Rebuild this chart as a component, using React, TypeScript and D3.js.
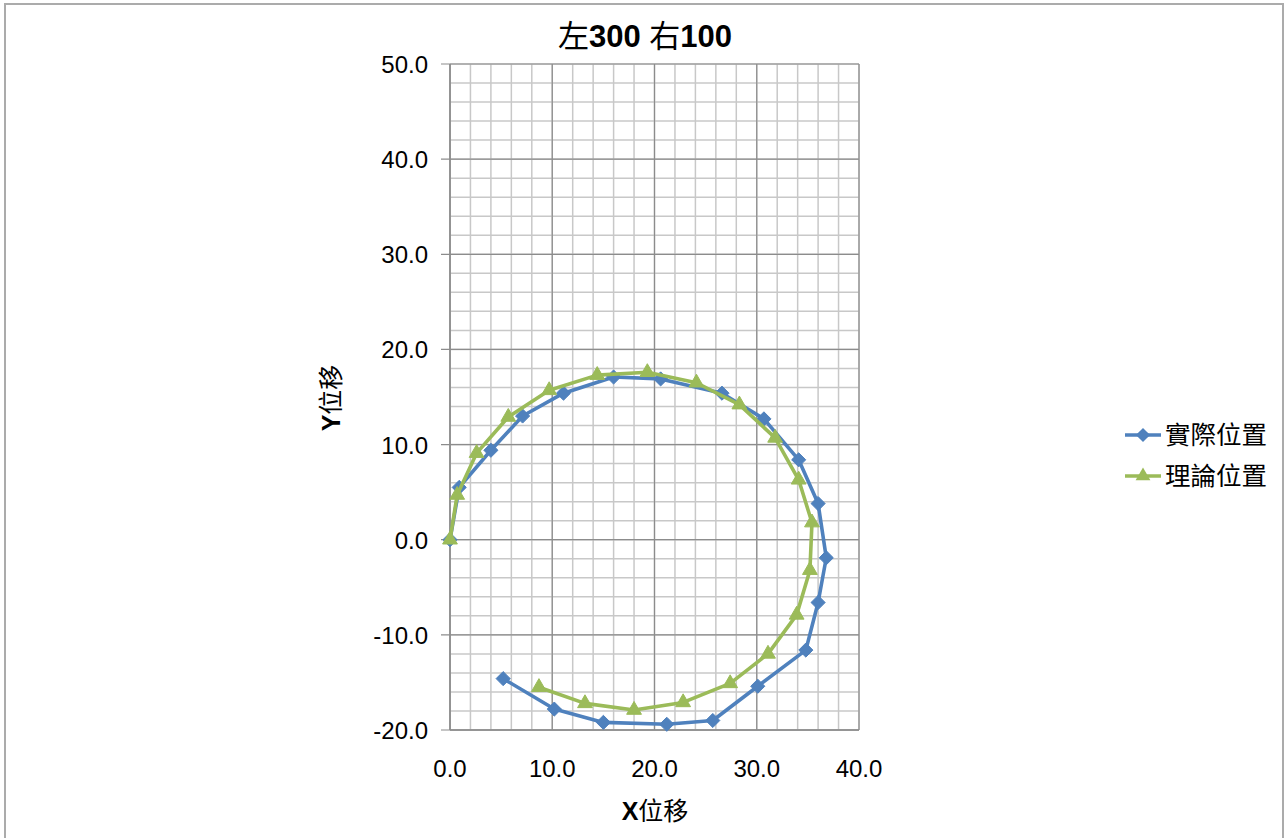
import React from "react";
import * as d3 from "d3";

// Measured displacement (實際位置) and theoretical displacement (理論位置)
const actualX = [0, 0.9, 4.0, 7.1, 11.1, 16.0, 20.6, 26.6, 30.7, 34.1, 36.0, 36.8, 36.0, 34.8, 30.1, 25.7, 21.2, 15.0, 10.2, 5.2];
const actualY = [0, 5.5, 9.4, 13.0, 15.4, 17.1, 16.9, 15.4, 12.7, 8.4, 3.8, -1.9, -6.6, -11.6, -15.4, -19.0, -19.4, -19.2, -17.8, -14.6];
const theoryX = [0, 0.7, 2.6, 5.7, 9.7, 14.4, 19.3, 24.1, 28.3, 31.8, 34.1, 35.4, 35.2, 33.9, 31.1, 27.4, 22.8, 18.0, 13.2, 8.7];
const theoryY = [0, 4.7, 9.1, 12.9, 15.7, 17.3, 17.6, 16.5, 14.2, 10.7, 6.3, 1.8, -3.2, -7.9, -12.0, -15.1, -17.1, -17.9, -17.2, -15.5];

const seriesNames = ["實際位置", "理論位置"];
const xTicks = [0, 10, 20, 30, 40];
const yTicks = [-20, -10, 0, 10, 20, 30, 40, 50];
const xMinor = d3.range(0, 40.001, 2);
const yMinor = d3.range(-20, 50.001, 2);

const BLUE = "#4F81BD";
const GREEN = "#9BBB59";
const FONT = "'Liberation Sans', Arial, 'Noto Sans CJK TC', sans-serif";

// square diamond (rotated square) marker
const squareDiamond: d3.SymbolType = {
  draw(ctx, size) {
    const r = Math.sqrt(size / 2);
    ctx.moveTo(0, -r);
    ctx.lineTo(r, 0);
    ctx.lineTo(0, r);
    ctx.lineTo(-r, 0);
    ctx.closePath();
  },
};

export default function App() {
  const W = 1288;
  const H = 838;
  const plot = { left: 450, right: 859, top: 64, bottom: 730 };
  const x = d3.scaleLinear().domain([0, 40]).range([plot.left, plot.right]);
  const y = d3.scaleLinear().domain([-20, 50]).range([plot.bottom, plot.top]);

  const line = d3
    .line<[number, number]>()
    .x((d) => x(d[0]))
    .y((d) => y(d[1]));

  const actual: [number, number][] = actualX.map((v, i) => [v, actualY[i]]);
  const theory: [number, number][] = theoryX.map((v, i) => [v, theoryY[i]]);

  const diamond = d3.symbol().type(squareDiamond).size(100)() as string;
  const triangle = d3.symbol().type(d3.symbolTriangle).size(95)() as string;

  return (
    <svg
      width={W}
      height={H}
      style={{ position: "absolute", left: 0, top: 0, background: "#fff" }}
      fontFamily={FONT}
    >
      <rect x={5} y={4} width={1278} height={850} fill="#fff" stroke="#ababab" strokeWidth={2} />

      {/* minor grid */}
      {xMinor.map((v) => (
        <line key={"xm" + v} x1={x(v)} x2={x(v)} y1={plot.top} y2={plot.bottom} stroke="#c8c8c8" strokeWidth={1.5} />
      ))}
      {yMinor.map((v) => (
        <line key={"ym" + v} x1={plot.left} x2={plot.right} y1={y(v)} y2={y(v)} stroke="#c8c8c8" strokeWidth={1.5} />
      ))}
      {/* major grid */}
      {xTicks.map((v) => (
        <line key={"xM" + v} x1={x(v)} x2={x(v)} y1={plot.top} y2={plot.bottom} stroke="#8c8c8c" strokeWidth={1.2} />
      ))}
      {yTicks.map((v) => (
        <line key={"yM" + v} x1={plot.left - 9} x2={plot.right} y1={y(v)} y2={y(v)} stroke="#8c8c8c" strokeWidth={1.2} />
      ))}
      <line x1={plot.left} x2={plot.left} y1={plot.top} y2={plot.bottom} stroke="#8c8c8c" strokeWidth={1.5} />
      <line x1={plot.left} x2={plot.right} y1={plot.bottom} y2={plot.bottom} stroke="#8c8c8c" strokeWidth={1.5} />

      {/* tick labels */}
      {yTicks.map((v) => (
        <text key={"yl" + v} x={428} y={y(v) + 9} textAnchor="end" fontSize={24} fill="#000">
          {v.toFixed(1)}
        </text>
      ))}
      {xTicks.map((v) => (
        <text key={"xl" + v} x={x(v)} y={777} textAnchor="middle" fontSize={24} fill="#000">
          {v.toFixed(1)}
        </text>
      ))}

      {/* series */}
      <path d={line(actual) as string} fill="none" stroke={BLUE} strokeWidth={3.6} strokeLinejoin="round" />
      {actual.map((d, i) => (
        <path key={"a" + i} d={diamond} transform={`translate(${x(d[0])},${y(d[1])})`} fill={BLUE} stroke={BLUE} />
      ))}
      <path d={line(theory) as string} fill="none" stroke={GREEN} strokeWidth={3.6} strokeLinejoin="round" />
      {theory.map((d, i) => (
        <path key={"t" + i} d={triangle} transform={`translate(${x(d[0])},${y(d[1])})`} fill={GREEN} stroke={GREEN} />
      ))}

      {/* title */}
      <text x={645} y={47} textAnchor="middle" fontSize={31} fill="#000">
        <tspan>左</tspan>
        <tspan fontWeight="bold">300 </tspan>
        <tspan>右</tspan>
        <tspan fontWeight="bold">100</tspan>
      </text>

      {/* axis titles */}
      <text x={655} y={820} textAnchor="middle" fontSize={25} fill="#000">
        <tspan fontWeight="bold">X</tspan>
        <tspan>位移</tspan>
      </text>
      <text transform="translate(340,398) rotate(-90)" textAnchor="middle" fontSize={25} fill="#000">
        <tspan fontWeight="bold">Y</tspan>
        <tspan>位移</tspan>
      </text>

      {/* legend */}
      {seriesNames.map((name, i) => {
        const ly = 435 + i * 41;
        const color = i === 0 ? BLUE : GREEN;
        return (
          <g key={name}>
            <line x1={1125} x2={1161} y1={ly} y2={ly} stroke={color} strokeWidth={3.6} />
            <path d={i === 0 ? diamond : triangle} transform={`translate(1143,${ly})`} fill={color} />
            <text x={1165} y={ly + 9} fontSize={25.5} fill="#000">
              {name}
            </text>
          </g>
        );
      })}
    </svg>
  );
}
